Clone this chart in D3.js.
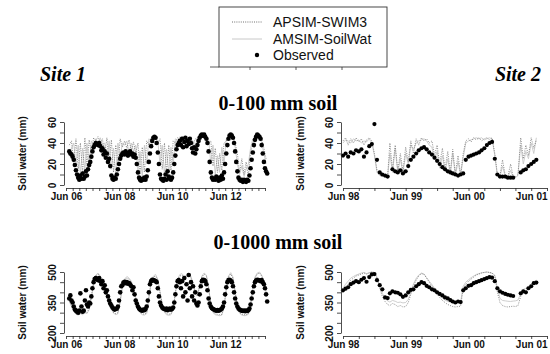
<!DOCTYPE html>
<html>
<head>
<meta charset="utf-8">
<script src="https://cdn.jsdelivr.net/npm/d3@7"></script>
<style>
  body { margin: 0; background: #fff; }
  svg { display: block; }
</style>
</head>
<body>
<svg id="chart" width="550" height="354"></svg>
<script>
// ---------- data ----------
// Site 1: observations every half month from 16 Jul 2006, model output monthly
const site1Start = new Date(2006, 6, 16);
const site1Obs100 = [32,30,29,27,24,19,14,10,7,5,9,6,11,6,8,13,9,15,19,22,27,32,36,38,40,39,38,40,37,
  33,35,29,32,26,30,22,25,18,9,6,5,7,6,10,15,20,25,28,30,31,29,32,30,28,31,32,29,30,27,29,26,
  20,12,7,5,4,6,5,7,5,8,14,22,30,37,42,45,46,45,40,31,20,10,6,5,4,6,10,5,13,8,6,5,7,
  12,20,28,34,38,40,42,38,44,36,41,45,37,42,39,44,40,35,31,36,30,34,38,42,45,47,48,47,48,46,44,
  40,32,22,12,7,5,6,5,8,6,4,7,5,9,6,12,20,30,38,44,47,48,47,45,40,32,22,13,7,5,4,5,
  3,5,4,3,5,4,9,16,24,31,38,43,46,48,47,46,44,38,30,22,16,13,11];
const site1Swim100 = [38,42,20,44,15,40,12,45,18,43, 30,45,42,46,40,44,28,45,22,43,
  12,38,20,44,36,42,35,43,33,41, 30,40,10,36,12,42,38,45,44,46,
  40,44,15,40,12,38,14,42,40,45, 43,46,42,45,41,46,38,44,43,46,
  45,46,44,40,42,18,35,12,30,14, 40,42,46,45,46,40,30,12,25,10,
  22,9,30,40,45,46,45,44,35,25];
const site1SoilWat100 = [30,35,40,18,38,10,35,14,40,20, 42,38,44,40,45,38,40,25,42,15,
  35,10,40,25,40,38,42,30,40,32, 38,14,32,8,38,20,44,42,46,44,
  42,20,38,10,34,12,36,20,44,42, 46,42,45,40,44,40,42,36,46,44,
  46,45,42,44,20,38,10,28,12,36, 20,44,45,46,44,36,20,10,18,8,
  15,20,35,44,46,45,46,40,30,20];
const site1Obs1000 = [370,385,360,350,330,315,310,305,300,310,395,330,305,310,360,410,340,330,350,345,
  380,420,450,465,470,465,460,470,455,440,455,420,435,400,410,380,360,345,335,325,320,315,318,
  320,330,360,400,430,435,448,452,445,450,442,446,438,430,410,425,390,360,
  345,330,320,315,312,310,315,312,318,330,360,400,440,455,462,460,458,455,450,420,380,350,335,325,320,
  318,315,320,312,316,320,315,318,325,350,390,430,455,460,450,
  420,455,380,470,400,440,360,485,420,450,380,430,360,400,345,335,
  350,390,430,455,462,460,455,440,410,370,345,330,322,318,
  315,312,310,313,310,312,315,320,330,350,390,425,450,460,462,458,450,430,400,
  370,345,330,320,315,312,310,308,310,307,310,308,312,
  320,340,370,400,430,450,458,462,460,458,455,460,450,440,420,390,355];
const site1Swim1000 = [360,340,315,300,295,300,295,310,300,320, 380,450,480,490,475,460,440,400,350,320,
  300,295,300,360,430,460,470,465,450,420, 370,330,305,295,292,300,380,450,475,480,
  460,400,340,305,295,292,295,320,400,460, 480,485,470,480,490,470,440,400,380,430,
  475,490,480,420,340,305,295,292,290,292, 330,420,475,490,470,400,330,300,292,290,
  290,295,340,420,470,490,495,480,450,400];
const site1SoilWat1000 = [355,330,305,292,288,295,290,300,295,315, 370,445,485,495,480,465,445,410,360,325,
  298,290,295,350,425,465,478,470,455,425, 375,335,300,290,288,295,370,445,480,488,
  465,405,345,300,290,287,290,315,395,465, 488,492,478,485,495,478,445,405,385,435,
  480,495,485,425,345,300,290,287,285,288, 325,415,480,497,475,405,335,297,288,285,
  286,292,335,415,475,495,500,485,455,405];

// Site 2: observations and model output every half month from 1 Jun 1998
const site2Start = new Date(1998, 5, 1);
const site2Obs100 = [28,30,27,31,30,33,32,34,27,31, 37,39,58,24,12,10,9,8,null,15,
  13,12,14,11,13,18,24,27,30,33, 35,36,34,31,29,26,23,20,17,15,
  13,12,11,10,9,10,11,24,27,28, 29,30,31,33,35,38,40,41,25,10,
  8,8,8,7,7,7,null,null,12,14, 15,18,20,22,24];
const site2Swim100 = [42,45,38,44,40,45,41,44,38,43, 45,42,30,14,10,9,10,9,40,15,
  38,14,30,13,36,22,42,30,44,38, 45,42,44,40,42,28,38,20,35,15,
  32,12,34,11,28,10,30,42,44,41, 45,43,45,42,44,45,43,45,30,10,
  9,24,9,8,20,8,8,10,45,25, 38,28,45,35,43];
const site2SoilWat100 = [40,43,42,40,44,42,43,40,42,41, 44,40,28,12,9,8,9,8,30,12,
  35,12,25,11,30,20,38,34,40,42, 43,44,42,38,36,24,32,16,28,13,
  25,10,30,9,22,9,26,40,42,43, 44,45,44,45,43,44,45,44,28,9,
  8,18,8,7,14,7,7,9,38,20, 32,25,40,30,45];
const site2Obs1000 = [410,418,425,440,448,455,450,462,470,452, 475,488,490,460,435,415,375,372,395,405,
  400,398,390,378,385,400,412,415,430,440, 450,445,432,425,415,410,400,392,385,375,
  370,362,355,350,355,352,410,420,432,435, 445,450,455,460,465,470,475,472,455,420,
  405,398,392,388,385,382,null,null,395,405, 400,420,430,445,448];
const site2Swim1000 = [400,420,440,460,470,480,485,490,495,490, 495,500,498,470,420,380,355,340,335,345,
  340,330,335,328,330,350,390,430,460,480, 492,488,470,450,430,410,390,375,360,350,
  340,335,330,328,330,332,420,440,455,465, 475,485,490,495,498,500,498,495,480,400,
  350,335,330,328,330,332,330,335,380,400, 405,420,430,445,455];
const site2SoilWat1000 = [420,440,455,470,478,485,490,495,498,492, 497,500,495,475,430,395,370,358,352,360,
  356,350,352,348,350,365,400,440,468,485, 495,490,472,455,438,420,400,385,372,362,
  355,352,350,348,350,352,430,450,462,472, 480,488,492,496,498,500,497,494,485,420,
  370,360,358,356,355,357,358,362,395,415, 420,430,440,452,460];

// axis labels and titles
const site1TickLabels = ["Jun 06", "Jun 08", "Jun 10", "Jun 12"];
const site2TickLabels = ["Jun 98", "Jun 99", "Jun 00", "Jun 01"];
const shallowTicks = [0, 10, 20, 30, 40, 50, 60];
const shallowLabels = [0, 20, 40, 60];
const deepTicks = [200, 250, 300, 350, 400, 450, 500];
const deepLabels = [200, 350, 500];
const siteNames = ["Site 1", "Site 2"];
const depthTitles = ["0-100 mm soil", "0-1000 mm soil"];
const legendLabels = ["APSIM-SWIM3", "AMSIM-SoilWat", "Observed"];
const yTitle = "Soil water (mm)";

// ---------- drawing ----------
const sans = "'Liberation Sans', Arial, Helvetica, sans-serif";
const serif = "'Liberation Serif', 'Times New Roman', serif";
const swimColor = "#707070";
const soilwatColor = "#c8c8c8";

const svg = d3.select("#chart");
const parseTick = d3.timeParse("%b %y");

const halfMonth = start => (v, i) =>
  d3.timeDay.offset(d3.timeMonth.offset(start, Math.floor(i / 2)), (i % 2) * 15);
const monthly = start => (v, i) => d3.timeMonth.offset(start, i);

const site1X = d3.scaleTime()
  .domain([new Date(2006, 5, 1), new Date(2013, 11, 1)]).range([66, 265]);
const site2X = d3.scaleTime()
  .domain([new Date(1998, 5, 1), new Date(2001, 8, 1)]).range([343, 547]);
const shallowY = d3.scaleLinear().domain([0, 60]).range([185, 122]);
const deepY = d3.scaleLinear().domain([200, 500]).range([333, 272]);

const panels = [
  { x: site1X, y: shallowY, labels: site1TickLabels, ticks: shallowTicks, tickLabels: shallowLabels,
    obs: site1Obs100, swim: site1Swim100, soilwat: site1SoilWat100, r: 2.3,
    obsDate: halfMonth(site1Start), modelDate: monthly(site1Start), axisY: 188, yAxisX: 64, titleX: 22 },
  { x: site2X, y: shallowY, labels: site2TickLabels, ticks: shallowTicks, tickLabels: shallowLabels,
    obs: site2Obs100, swim: site2Swim100, soilwat: site2SoilWat100, r: 2.1,
    obsDate: halfMonth(site2Start), modelDate: halfMonth(site2Start), axisY: 188, yAxisX: 341, titleX: 300 },
  { x: site1X, y: deepY, labels: site1TickLabels, ticks: deepTicks, tickLabels: deepLabels,
    obs: site1Obs1000, swim: site1Swim1000, soilwat: site1SoilWat1000, r: 2.3,
    obsDate: halfMonth(site1Start), modelDate: monthly(site1Start), axisY: 336, yAxisX: 64, titleX: 22 },
  { x: site2X, y: deepY, labels: site2TickLabels, ticks: deepTicks, tickLabels: deepLabels,
    obs: site2Obs1000, swim: site2Swim1000, soilwat: site2SoilWat1000, r: 2.1,
    obsDate: halfMonth(site2Start), modelDate: halfMonth(site2Start), axisY: 336, yAxisX: 341, titleX: 300 }
];

panels.forEach(p => {
  const g = svg.append("g");

  const modelLine = d3.line()
    .defined(v => v != null)
    .x((v, i) => p.x(p.modelDate(v, i)))
    .y(v => p.y(v));

  g.append("path").datum(p.soilwat)
    .attr("d", modelLine)
    .attr("fill", "none").attr("stroke", soilwatColor).attr("stroke-width", 0.9);

  g.append("path").datum(p.swim)
    .attr("d", modelLine)
    .attr("fill", "none").attr("stroke", swimColor).attr("stroke-width", 0.8)
    .attr("stroke-dasharray", "1,1.3");

  const obsPoints = p.obs.map((v, i) => ({ date: p.obsDate(v, i), value: v }))
    .filter(d => d.value != null);
  g.selectAll("circle.obs").data(obsPoints).join("circle")
    .attr("class", "obs")
    .attr("cx", d => p.x(d.date))
    .attr("cy", d => p.y(d.value))
    .attr("r", p.r)
    .attr("fill", "#000");

  // x axis: quarterly ticks, labelled in June
  const [d0, d1] = p.x.domain();
  const quarters = d3.timeMonth.range(d0, d3.timeDay.offset(d1, 1), 3);
  const labelTimes = new Map(p.labels.map(l => [+parseTick(l), l]));
  const xAxis = d3.axisBottom(p.x)
    .tickValues(quarters)
    .tickSize(3)
    .tickSizeOuter(0)
    .tickFormat(d => labelTimes.get(+d) || "");
  const xg = g.append("g").attr("transform", `translate(0,${p.axisY})`).call(xAxis);
  xg.selectAll("text")
    .attr("y", 5)
    .style("font-family", sans).style("font-size", "10px").style("font-weight", "bold").attr("fill", "#111");

  // y axis with rotated labels
  const yAxis = d3.axisLeft(p.y)
    .tickValues(p.ticks)
    .tickSize(4)
    .tickSizeOuter(0)
    .tickFormat(v => p.tickLabels.includes(v) ? String(v) : "");
  const yg = g.append("g").attr("transform", `translate(${p.yAxisX},0)`).call(yAxis);
  yg.selectAll("text")
    .attr("transform", "rotate(-90)")
    .attr("x", 0).attr("y", -8).attr("dy", 0)
    .attr("text-anchor", "middle")
    .style("font-family", sans).style("font-size", "10px").style("font-weight", "bold").attr("fill", "#111");

  [xg, yg].forEach(ax => {
    ax.select(".domain").attr("stroke", "#222").attr("stroke-width", 0.8);
    ax.selectAll(".tick line").attr("stroke", "#222").attr("stroke-width", 0.8);
  });

  const [yLo, yHi] = p.y.range();
  g.append("text")
    .attr("transform", `translate(${p.titleX},${(yLo + yHi) / 2}) rotate(-90)`)
    .attr("text-anchor", "middle")
    .attr("dy", "0.35em")
    .style("font-family", sans).style("font-size", "10px").style("font-weight", "bold")
    .attr("fill", "#111")
    .text(yTitle);
});

// section titles
svg.selectAll("text.depth").data(depthTitles).join("text")
  .attr("class", "depth")
  .attr("x", 278)
  .attr("y", (d, i) => i === 0 ? 110 : 249)
  .attr("text-anchor", "middle")
  .style("font-family", serif).style("font-size", "20px").style("font-weight", "bold")
  .attr("fill", "#000")
  .text(d => d);

svg.selectAll("text.site").data(siteNames).join("text")
  .attr("class", "site")
  .attr("x", (d, i) => i === 0 ? 40 : 541)
  .attr("y", 81)
  .attr("text-anchor", (d, i) => i === 0 ? "start" : "end")
  .style("font-family", serif).style("font-size", "20px").style("font-weight", "bold")
  .style("font-style", "italic")
  .attr("fill", "#000")
  .text(d => d);

// legend
const lg = svg.append("g");
const box = { x: 219, y: 7, w: 168, h: 60 };
// stray axis fragments peeking out below the legend frame
lg.append("line").attr("x1", box.x - 9).attr("x2", box.x).attr("y1", box.y + box.h).attr("y2", box.y + box.h)
  .attr("stroke", "#333").attr("stroke-width", 0.8);
[250, 296, 342].forEach(tx => lg.append("line")
  .attr("x1", tx).attr("x2", tx).attr("y1", box.y + box.h).attr("y2", box.y + box.h + 3)
  .attr("stroke", "#333").attr("stroke-width", 0.8));
lg.append("rect").attr("x", box.x).attr("y", box.y).attr("width", box.w).attr("height", box.h)
  .attr("fill", "#fff").attr("stroke", "#333").attr("stroke-width", 0.9);

const rows = [22, 39, 55];
lg.append("line").attr("x1", 232).attr("x2", 262).attr("y1", rows[0]).attr("y2", rows[0])
  .attr("stroke", swimColor).attr("stroke-width", 1).attr("stroke-dasharray", "1,1.2");
lg.append("line").attr("x1", 232).attr("x2", 262).attr("y1", rows[1]).attr("y2", rows[1])
  .attr("stroke", soilwatColor).attr("stroke-width", 1);
lg.append("circle").attr("cx", 257).attr("cy", rows[2]).attr("r", 2.2).attr("fill", "#000");

lg.selectAll("text").data(legendLabels).join("text")
  .attr("x", 273)
  .attr("y", (d, i) => rows[i])
  .attr("dy", "0.35em")
  .style("font-family", sans).style("font-size", "14px")
  .attr("fill", "#111")
  .text(d => d);
</script>
</body>
</html>
